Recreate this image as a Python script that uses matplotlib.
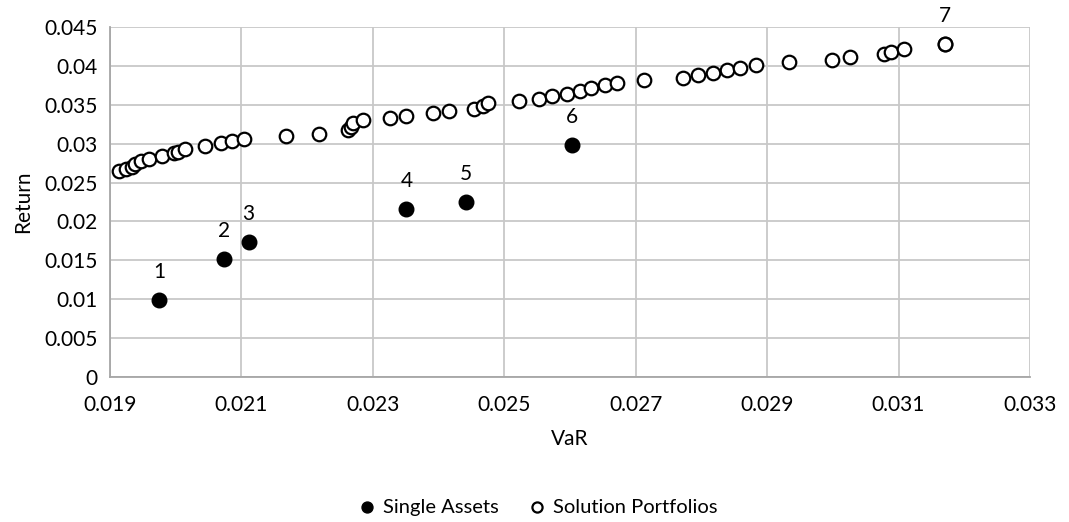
# Return vs VaR scatter: single assets and the solution portfolios

import matplotlib
matplotlib.use("Agg")
import matplotlib.pyplot as plt

# single assets (filled points) and their labels
asset_var = [0.01975, 0.02073, 0.02111, 0.02351, 0.02441, 0.02603, 0.03171]
asset_ret = [0.00988, 0.01514, 0.01736, 0.02160, 0.02250, 0.02981, 0.04284]
asset_lbl = ["1", "2", "3", "4", "5", "6", "7"]

# solution portfolios (open points)
port_var = [0.019137, 0.019243, 0.019334, 0.019380, 0.019471, 0.019593, 0.019790,
            0.019973, 0.020033, 0.020140, 0.020444, 0.020687, 0.020854, 0.021036,
            0.021675, 0.022176, 0.022617, 0.022663, 0.022693, 0.022845, 0.023255,
            0.023498, 0.023909, 0.024152, 0.024532, 0.024669, 0.024745, 0.025231,
            0.025535, 0.025733, 0.025960, 0.026158, 0.026325, 0.026538, 0.026720,
            0.027131, 0.027723, 0.027951, 0.028179, 0.028392, 0.028590, 0.028833,
            0.029334, 0.029988, 0.030261, 0.030778, 0.030884, 0.031082, 0.031705]
port_ret = [0.02648, 0.02673, 0.02699, 0.02737, 0.02776, 0.02802, 0.02840,
            0.02879, 0.02892, 0.02930, 0.02968, 0.03007, 0.03033, 0.03058,
            0.03097, 0.03122, 0.03174, 0.03212, 0.03264, 0.03302, 0.03328,
            0.03354, 0.03398, 0.03418, 0.03450, 0.03482, 0.03520, 0.03546,
            0.03572, 0.03610, 0.03642, 0.03674, 0.03713, 0.03751, 0.03783,
            0.03816, 0.03848, 0.03880, 0.03912, 0.03944, 0.03976, 0.04014,
            0.04047, 0.04072, 0.04111, 0.04156, 0.04181, 0.04220, 0.04284]

x_ticks = [0.019, 0.021, 0.023, 0.025, 0.027, 0.029, 0.031, 0.033]
x_tick_lbl = ["0.019", "0.021", "0.023", "0.025", "0.027", "0.029", "0.031", "0.033"]
y_ticks = [0, 0.005, 0.01, 0.015, 0.02, 0.025, 0.03, 0.035, 0.04, 0.045]
y_tick_lbl = ["0", "0.005", "0.01", "0.015", "0.02", "0.025", "0.03", "0.035", "0.04", "0.045"]

plt.rcParams['font.family'] = ['Lato', 'DejaVu Sans']

fig = plt.figure(figsize=(10.69, 5.22), dpi=100)
ax = fig.add_axes([0.1029, 0.2778, 0.8606, 0.6705])

ax.set_xlim(0.019, 0.033)
ax.set_ylim(0, 0.045)
ax.set_xticks(x_ticks)
ax.set_xticklabels(x_tick_lbl)
ax.set_yticks(y_ticks)
ax.set_yticklabels(y_tick_lbl)
ax.grid(True, color="#c8c8c8", linewidth=1.3, zorder=0)
ax.set_axisbelow(True)
for side in ["top", "right"]:
    ax.spines[side].set_visible(False)
for side in ["left", "bottom"]:
    ax.spines[side].set_color("#a6a6a6")
    ax.spines[side].set_linewidth(1.3)
ax.tick_params(length=0, labelsize=15, colors="#000000")
ax.tick_params(axis="x", pad=13)
ax.tick_params(axis="y", pad=9)

# single assets first so the portfolio circle sits on top of asset 7
ax.scatter(asset_var, asset_ret, s=110, color="black", zorder=3, label="Single Assets")
ax.scatter(port_var, port_ret, s=95, facecolor="white", edgecolor="black",
           linewidth=1.6, zorder=4, label="Solution Portfolios")

for xv, yv, t in zip(asset_var, asset_ret, asset_lbl):    # number above each asset
    ax.annotate(t, (xv, yv), xytext=(0, 13), textcoords="offset points",
                ha="center", va="bottom", fontsize=15)

ax.set_xlabel("VaR", fontsize=15, labelpad=10)
ax.set_ylabel("Return", fontsize=15, labelpad=8)

fig.legend(loc="center", bbox_to_anchor=(532 / 1069, 15 / 522), ncol=2,
           frameon=False, fontsize=14.5, handletextpad=-0.2, columnspacing=0.9,
           markerscale=0.75)

fig.savefig("out.png", dpi=100)
